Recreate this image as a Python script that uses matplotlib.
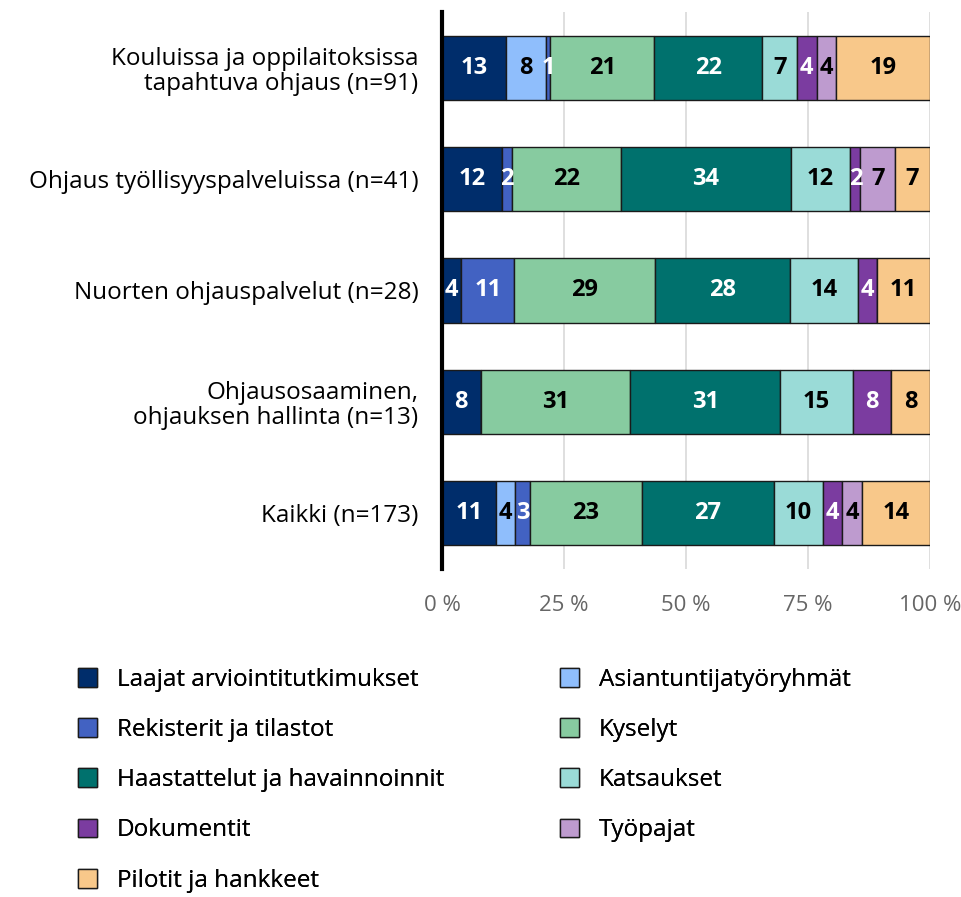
import numpy as np
import matplotlib
matplotlib.use("Agg")
import matplotlib.pyplot as plt

plt.rcParams['font.family'] = ['Open Sans', 'DejaVu Sans']

kategoriat = ["Kouluissa ja oppilaitoksissa\ntapahtuva ohjaus (n=91)",
              "Ohjaus työllisyyspalveluissa (n=41)",
              "Nuorten ohjauspalvelut (n=28)",
              "Ohjausosaaminen,\nohjauksen hallinta (n=13)",
              "Kaikki (n=173)"]

sarjat = ["Laajat arviointitutkimukset", "Asiantuntijatyöryhmät",
          "Rekisterit ja tilastot", "Kyselyt",
          "Haastattelut ja havainnoinnit", "Katsaukset",
          "Dokumentit", "Työpajat", "Pilotit ja hankkeet"]

laajat = [13, 12, 4, 8, 11]
asiantuntijat = [8, 0, 0, 0, 4]
rekisterit = [1, 2, 11, 0, 3]
kyselyt = [21, 22, 29, 31, 23]
haastattelut = [22, 34, 28, 31, 27]
katsaukset = [7, 12, 14, 15, 10]
dokumentit = [4, 2, 4, 8, 4]
tyopajat = [4, 7, 0, 0, 4]
pilotit = [19, 7, 11, 8, 14]

varit = ["#002D6B", "#8FBEFC", "#4262C2", "#87CBA0", "#00716D",
         "#9ADBD7", "#7B3CA0", "#BE9BCF", "#F8C88A"]
tekstivarit = ["white", "black", "white", "black", "white",
               "black", "white", "black", "black"]

arvot = np.array([laajat, asiantuntijat, rekisterit, kyselyt, haastattelut,
                  katsaukset, dokumentit, tyopajat, pilotit], dtype=float)
osuudet = arvot / arvot.sum(axis=0) * 100

fig = plt.figure(figsize=(9.62, 8.97), dpi=100)
ax = fig.add_axes([442 / 962, 1 - 569 / 897, 488 / 962, 557 / 897])

y = np.arange(len(kategoriat))
vasen = np.zeros(len(kategoriat))
palkit = []
for i, nimi in enumerate(sarjat):
    p = ax.barh(y, osuudet[i], left=vasen, height=0.575, color=varit[i],
                edgecolor="#1a1a1a", linewidth=1, label=nimi, zorder=3)
    palkit.append(p)
    for j in range(len(kategoriat)):
        if arvot[i, j] > 0:
            ax.text(vasen[j] + osuudet[i, j] / 2, y[j], str(int(arvot[i, j])),
                    ha="center", va="center", color=tekstivarit[i],
                    fontsize=17, fontweight="bold", zorder=4)
    vasen += osuudet[i]

ax.set_xlim(0, 100)
ax.set_ylim(4.5, -0.5)
ax.set_yticks(y)
ax.set_yticklabels(kategoriat, fontsize=17.5, linespacing=1.05)
ax.set_xticks([0, 25, 50, 75, 100])
ax.set_xticklabels(["0 %", "25 %", "50 %", "75 %", "100 %"], fontsize=16, color="#666666")
ax.tick_params(axis="y", length=0, pad=17)
ax.tick_params(axis="x", length=0, pad=19)
ax.grid(axis="x", color="#d9d9d9", linewidth=1.2, zorder=0)
for s in ["top", "right", "bottom"]:
    ax.spines[s].set_visible(False)
ax.spines["left"].set_linewidth(3)
ax.spines["left"].set_color("black")
ax.spines["left"].set_zorder(5)

# legend in row order, two separate columns
vasen_sarake = [0, 2, 4, 6, 8]
oikea_sarake = [1, 3, 5, 7]
for ryhma, x0 in [(vasen_sarake, 68), (oikea_sarake, 550)]:
    leg = fig.legend([palkit[k] for k in ryhma], [sarjat[k] for k in ryhma],
                     loc="upper left", bbox_to_anchor=(x0 / 962, 1 - 658 / 897),
                     frameon=False, fontsize=17.5, handlelength=0.8, handleheight=0.8,
                     handletextpad=0.8, labelspacing=1.08, borderaxespad=0)
    fig.add_artist(leg)

fig.savefig("out.png", dpi=100)
